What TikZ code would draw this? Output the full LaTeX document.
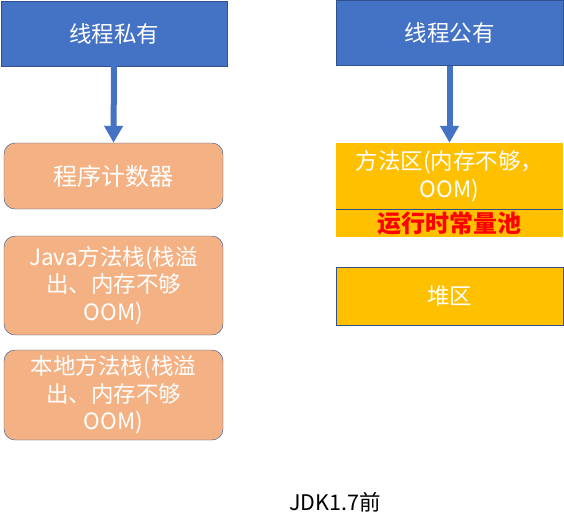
\documentclass[tikz,border=0pt]{standalone}
\usepackage{fontspec}
\setmainfont{Noto Sans CJK SC}
\usepackage{tikz}
\usetikzlibrary{arrows.meta, positioning}

\definecolor{hdrblue}{HTML}{4472C4}
\definecolor{edgeblue}{HTML}{2F528F}
\definecolor{peach}{HTML}{F4B183}
\definecolor{gold}{HTML}{FFC000}

\begin{document}
\begin{tikzpicture}[x=1pt, y=-1pt,
        hdr/.style={draw=edgeblue, fill=hdrblue, text=white, minimum width=226pt, minimum height=65pt,
                    font=\fontsize{22.5}{27}\selectfont, inner sep=0pt},
        priv/.style={draw=edgeblue, fill=peach, text=white, rounded corners=11pt, minimum width=219pt,
                     align=center, font=\fontsize{22.5}{27.5}\selectfont, inner sep=0pt},
        pub/.style={fill=gold, text=white, minimum width=227pt, align=center,
                    font=\fontsize{22.5}{28}\selectfont, inner sep=0pt},
        arr/.style={-{Triangle[width=18pt, length=17pt]}, line width=6pt, draw=hdrblue},
    ]
    \useasboundingbox (0,0) rectangle (564,531);

    % ---- Thread private (left column) ----
    \node[hdr] (private) at (114, 33.5) {线程私有};
    \node[priv, minimum height=66pt, font=\fontsize{24}{28}\selectfont] (pc) at (113.5, 176) {程序计数器};
    \node[priv, minimum height=99pt] (jstack) at (113.5, 285.5)
        {Java方法栈(栈溢\\出、内存不够\\OOM)};
    \node[priv, minimum height=90pt] (nstack) at (113.5, 395)
        {本地方法栈(栈溢\\出、内存不够\\OOM)};

    \draw[arr] (private.south) -- (pc.north);

    % ---- Thread shared (right column) ----
    \node[hdr, minimum width=227pt] (shared) at (449.5, 33) {线程公有};
    \node[pub, minimum height=66pt] (method) at (449.5, 176) {方法区(内存不够，\\OOM)};
    \node[pub, minimum height=28pt, text=red, font=\fontsize{24}{28}\selectfont\bfseries,
          below=0pt of method] (pool) {运行时常量池};
    \draw[edgeblue, thin] (method.south west) -- (method.south east);
    \node[pub, draw=edgeblue, minimum height=58pt] (heap) at (449.5, 296) {堆区};

    \draw[arr] (shared.south) -- (method.north);

    % ---- Caption ----
    \node[font=\fontsize{21.5}{24}\selectfont] (caption) at (335, 502) {JDK1.7前};
\end{tikzpicture}
\end{document}
